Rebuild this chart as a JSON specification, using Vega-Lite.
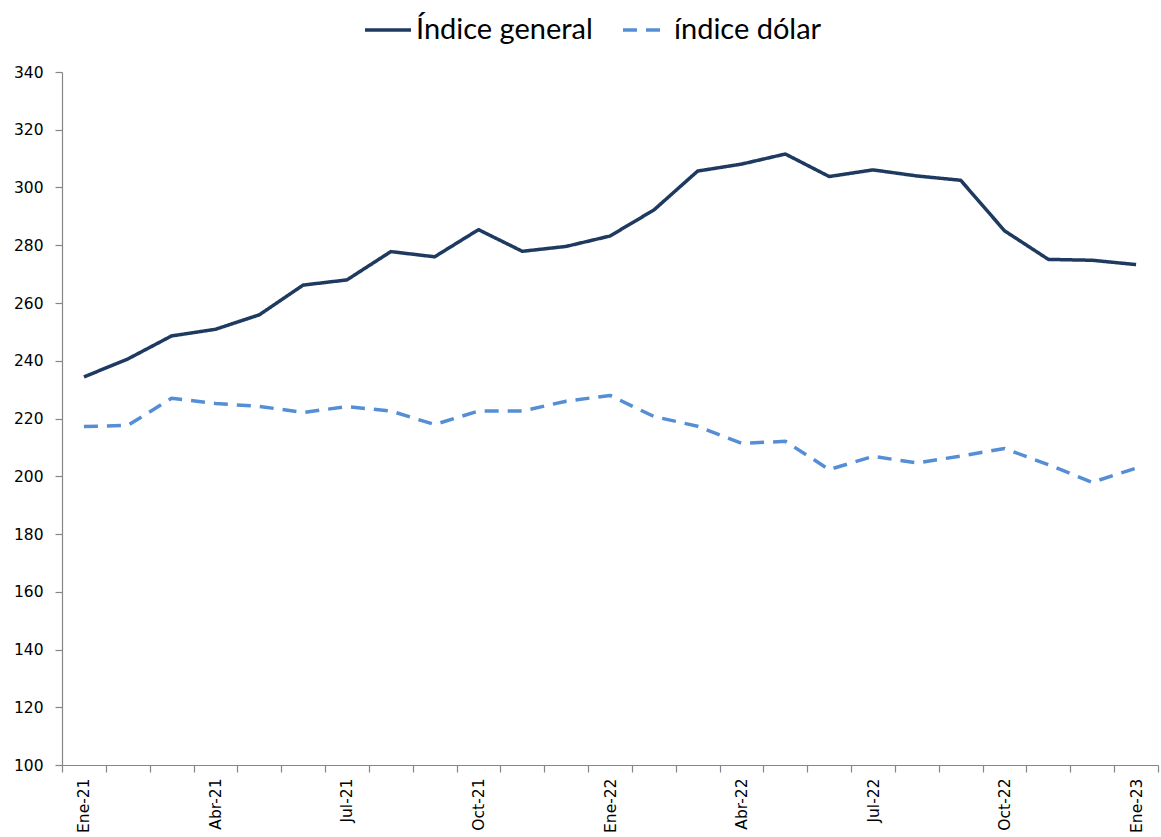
{
  "$schema": "https://vega.github.io/schema/vega-lite/v6.json",
  "width": 1096,
  "height": 693,
  "autosize": {"type": "none"},
  "padding": {"left": 62, "top": 72, "right": 3, "bottom": 72},
  "background": "white",
  "config": {
    "view": {"stroke": null},
    "axis": {
      "labelFont": "DejaVu Sans",
      "labelFontSize": 15.5,
      "labelColor": "#000000",
      "domainColor": "#868686",
      "tickColor": "#868686",
      "domainWidth": 1.2,
      "tickWidth": 1.2,
      "tickSize": 7,
      "grid": false,
      "title": null
    }
  },
  "data": {
    "values": [
      {"mes": "Ene-21", "serie": "Índice general", "valor": 234.4},
      {"mes": "Feb-21", "serie": "Índice general", "valor": 240.6},
      {"mes": "Mar-21", "serie": "Índice general", "valor": 248.6},
      {"mes": "Abr-21", "serie": "Índice general", "valor": 250.9},
      {"mes": "May-21", "serie": "Índice general", "valor": 255.9},
      {"mes": "Jun-21", "serie": "Índice general", "valor": 266.2},
      {"mes": "Jul-21", "serie": "Índice general", "valor": 268.0},
      {"mes": "Ago-21", "serie": "Índice general", "valor": 277.8},
      {"mes": "Sep-21", "serie": "Índice general", "valor": 276.0},
      {"mes": "Oct-21", "serie": "Índice general", "valor": 285.4},
      {"mes": "Nov-21", "serie": "Índice general", "valor": 277.9},
      {"mes": "Dic-21", "serie": "Índice general", "valor": 279.6},
      {"mes": "Ene-22", "serie": "Índice general", "valor": 283.2},
      {"mes": "Feb-22", "serie": "Índice general", "valor": 292.2},
      {"mes": "Mar-22", "serie": "Índice general", "valor": 305.7},
      {"mes": "Abr-22", "serie": "Índice general", "valor": 308.1},
      {"mes": "May-22", "serie": "Índice general", "valor": 311.6},
      {"mes": "Jun-22", "serie": "Índice general", "valor": 303.8},
      {"mes": "Jul-22", "serie": "Índice general", "valor": 306.1},
      {"mes": "Ago-22", "serie": "Índice general", "valor": 304.0},
      {"mes": "Sep-22", "serie": "Índice general", "valor": 302.5},
      {"mes": "Oct-22", "serie": "Índice general", "valor": 285.0},
      {"mes": "Nov-22", "serie": "Índice general", "valor": 275.1},
      {"mes": "Dic-22", "serie": "Índice general", "valor": 274.8},
      {"mes": "Ene-23", "serie": "Índice general", "valor": 273.3},
      {"mes": "Ene-21", "serie": "índice dólar", "valor": 217.2},
      {"mes": "Feb-21", "serie": "índice dólar", "valor": 217.6},
      {"mes": "Mar-21", "serie": "índice dólar", "valor": 227.0},
      {"mes": "Abr-21", "serie": "índice dólar", "valor": 225.2},
      {"mes": "May-21", "serie": "índice dólar", "valor": 224.2},
      {"mes": "Jun-21", "serie": "índice dólar", "valor": 222.1},
      {"mes": "Jul-21", "serie": "índice dólar", "valor": 224.1},
      {"mes": "Ago-21", "serie": "índice dólar", "valor": 222.6},
      {"mes": "Sep-21", "serie": "índice dólar", "valor": 217.9},
      {"mes": "Oct-21", "serie": "índice dólar", "valor": 222.6},
      {"mes": "Nov-21", "serie": "índice dólar", "valor": 222.6},
      {"mes": "Dic-21", "serie": "índice dólar", "valor": 226.0},
      {"mes": "Ene-22", "serie": "índice dólar", "valor": 228.0},
      {"mes": "Feb-22", "serie": "índice dólar", "valor": 220.7},
      {"mes": "Mar-22", "serie": "índice dólar", "valor": 217.3},
      {"mes": "Abr-22", "serie": "índice dólar", "valor": 211.4},
      {"mes": "May-22", "serie": "índice dólar", "valor": 212.1},
      {"mes": "Jun-22", "serie": "índice dólar", "valor": 202.3},
      {"mes": "Jul-22", "serie": "índice dólar", "valor": 206.9},
      {"mes": "Ago-22", "serie": "índice dólar", "valor": 204.6},
      {"mes": "Sep-22", "serie": "índice dólar", "valor": 207.0},
      {"mes": "Oct-22", "serie": "índice dólar", "valor": 209.6},
      {"mes": "Nov-22", "serie": "índice dólar", "valor": 204.0},
      {"mes": "Dic-22", "serie": "índice dólar", "valor": 197.9},
      {"mes": "Ene-23", "serie": "índice dólar", "valor": 202.8}
    ]
  },
  "mark": {"type": "line", "strokeWidth": 3.5, "strokeJoin": "round"},
  "encoding": {
    "x": {
      "field": "mes",
      "type": "ordinal",
      "sort": null,
      "bandPosition": 0.5,
      "scale": {"type": "band", "paddingInner": 0, "paddingOuter": 0},
      "axis": {
        "tickBand": "extent",
        "labelAngle": -90,
        "labelPadding": 6,
        "labelExpr": "indexof(['Ene-21','Abr-21','Jul-21','Oct-21','Ene-22','Abr-22','Jul-22','Oct-22','Ene-23'], datum.value) >= 0 ? datum.value : ''"
      }
    },
    "y": {
      "field": "valor",
      "type": "quantitative",
      "scale": {"domain": [100, 340], "nice": false, "zero": false},
      "axis": {
        "values": [100, 120, 140, 160, 180, 200, 220, 240, 260, 280, 300, 320, 340],
        "labelPadding": 12
      }
    },
    "color": {
      "field": "serie",
      "type": "nominal",
      "scale": {"domain": ["Índice general", "índice dólar"], "range": ["#1F3A60", "#558ED5"]},
      "legend": {
        "title": null,
        "orient": "none",
        "direction": "horizontal",
        "legendX": 301,
        "legendY": -67,
        "symbolType": "stroke",
        "symbolSize": 2116,
        "symbolStrokeWidth": 3.5,
        "labelFont": "Lato",
        "labelFontSize": 29,
        "labelLimit": 400,
        "labelColor": "#000000",
        "labelOffset": 3,
        "columnPadding": 23,
        "padding": 0
      }
    },
    "strokeDash": {
      "field": "serie",
      "type": "nominal",
      "scale": {"domain": ["Índice general", "índice dólar"], "range": [[1, 0], [14, 9]]},
      "legend": null
    }
  }
}
